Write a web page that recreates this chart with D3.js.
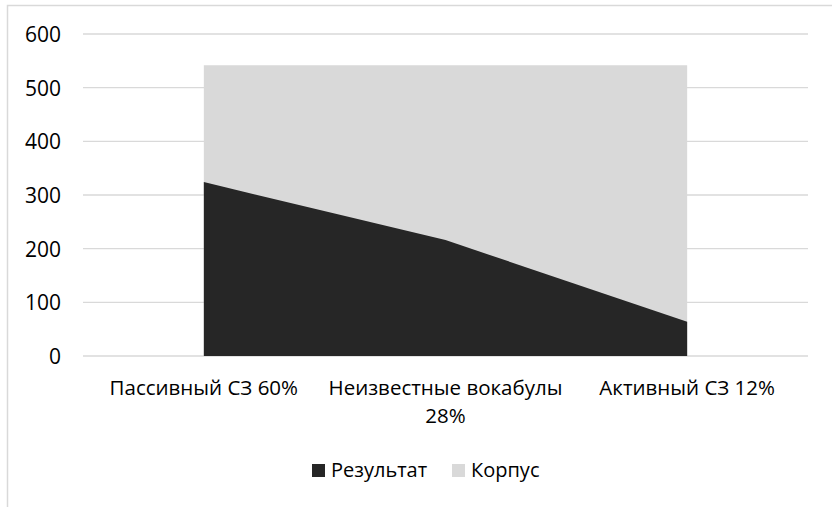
<!DOCTYPE html>
<html><head><meta charset="utf-8">
<script src="https://cdn.jsdelivr.net/npm/d3@7"></script>
<style>body{margin:0;background:#fff}svg{display:block}text{font-family:"Open Sans",sans-serif;fill:#000}</style>
</head><body>
<svg id="c" width="832" height="507"></svg>
<script>
const categories = ["Пассивный СЗ 60%", "Неизвестные вокабулы 28%", "Активный СЗ 12%"];
const categoryLines = [["Пассивный СЗ 60%"], ["Неизвестные вокабулы", "28%"], ["Активный СЗ 12%"]];
const seriesNames = ["Результат", "Корпус"];
const resultValues = [324, 216, 64];
const corpusValues = [542, 542, 542];
const yTicks = [0, 100, 200, 300, 400, 500, 600];
const colors = {"Результат": "#262626", "Корпус": "#d9d9d9"};

const svg = d3.select("#c");
// chart border
svg.append("path").attr("d", "M7.5,507 V5.5 H832").attr("fill", "none").attr("stroke", "#d9d9d9").attr("stroke-width", 1.5);

const x0 = 83, x1 = 808, yTop = 34, yBot = 356;
const band = d3.scaleBand().domain(categories).range([x0, x1]).padding(0);
const xc = d => band(d) + band.bandwidth() / 2;
const y = d3.scaleLinear().domain([0, 600]).range([yBot, yTop]);

// gridlines
svg.append("g").selectAll("line").data(yTicks).join("line")
  .attr("x1", x0).attr("x2", x1).attr("y1", d => y(d)).attr("y2", d => y(d))
  .attr("stroke", "#d9d9d9").attr("stroke-width", 1.3);

// y axis labels
const yAxis = d3.axisLeft(y).tickValues(yTicks).tickSize(0).tickPadding(0);
const yg = svg.append("g").attr("transform", "translate(61,0)").call(yAxis);
yg.select(".domain").remove();
yg.selectAll("text").attr("font-size", 21).attr("font-family", "Open Sans").attr("fill", "#000").attr("dy", "0.36em");

const area = d3.area().x(d => xc(d.c)).y0(y(0)).y1(d => y(d.v));
const corpusData = categories.map((c, i) => ({c, v: corpusValues[i]}));
const resultData = categories.map((c, i) => ({c, v: resultValues[i]}));
svg.append("path").datum(corpusData).attr("d", area).attr("fill", colors["Корпус"]);
svg.append("path").datum(resultData).attr("d", area).attr("fill", colors["Результат"]);

// x labels
const xg = svg.append("g");
categories.forEach((c, i) => {
  const t = xg.append("text").attr("x", xc(c)).attr("y", 395).attr("text-anchor", "middle").attr("font-size", 20.5);
  categoryLines[i].forEach((ln, j) => t.append("tspan").attr("x", xc(c)).attr("dy", j === 0 ? 0 : 28).text(ln));
});

// legend
const legend = [{n: "Результат", sx: 312, tx: 331}, {n: "Корпус", sx: 452, tx: 471}];
const lg = svg.append("g");
legend.forEach(l => {
  lg.append("rect").attr("x", l.sx).attr("y", 464).attr("width", 13).attr("height", 13).attr("fill", colors[l.n]);
  lg.append("text").attr("x", l.tx).attr("y", 477).attr("font-size", 20).text(l.n);
});
</script>
</body></html>
